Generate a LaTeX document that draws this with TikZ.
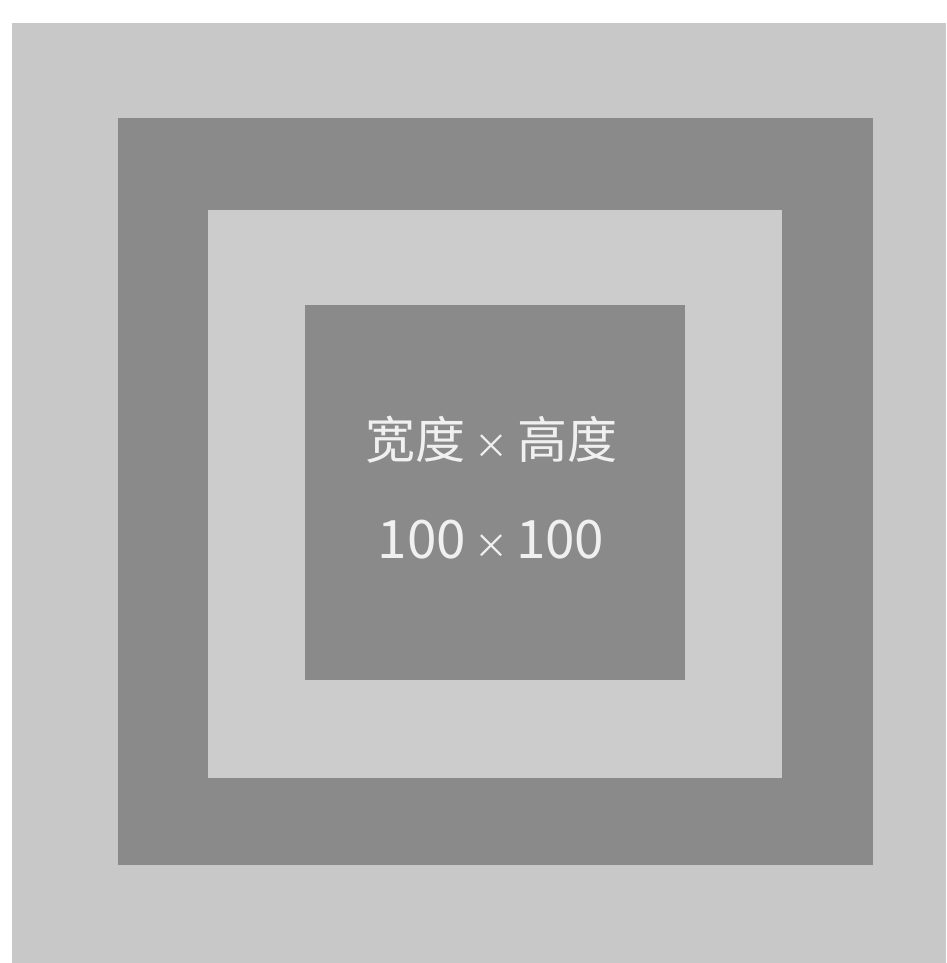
\documentclass[tikz,border=0pt]{standalone}
\usepackage{fontspec}
\newfontfamily\cjk{Noto Sans CJK SC}
\definecolor{bggray}{HTML}{C8C8C8}
\definecolor{darkgray}{HTML}{8A8A8A}
\definecolor{lightgray}{HTML}{CCCCCC}
\definecolor{txtwhite}{HTML}{F0F0F0}
\newcommand{\smtimes}{{\fontsize{34}{40}\selectfont ×}}
\begin{document}
\begin{tikzpicture}[x=1pt,y=-1pt,
  band/.style={fill=#1,draw=none},
  label/.style={text=txtwhite,font=\cjk\fontsize{50}{56}\selectfont,inner sep=0pt}]
\useasboundingbox (0,0) rectangle (946,963);
\fill[white] (0,0) rectangle (946,963);
\fill[bggray] (12,23) rectangle (946,963);
\node[band=darkgray,minimum width=755pt,minimum height=747pt,anchor=north west] (outer) at (118,118) {};
\node[band=lightgray,minimum width=574pt,minimum height=568pt,anchor=north west] (mid) at (208,210) {};
\node[band=darkgray,minimum width=380pt,minimum height=375pt,anchor=north west] (inner) at (305,305) {};
\node[label] (t1) at (491,440) {宽度\hspace{9pt}\smtimes\hspace{9pt}高度};
\node[label,font=\cjk\fontsize{53}{58}\selectfont] (t2) at (491,540) {100\hspace{8pt}\smtimes\hspace{8pt}100};
\end{tikzpicture}
\end{document}
